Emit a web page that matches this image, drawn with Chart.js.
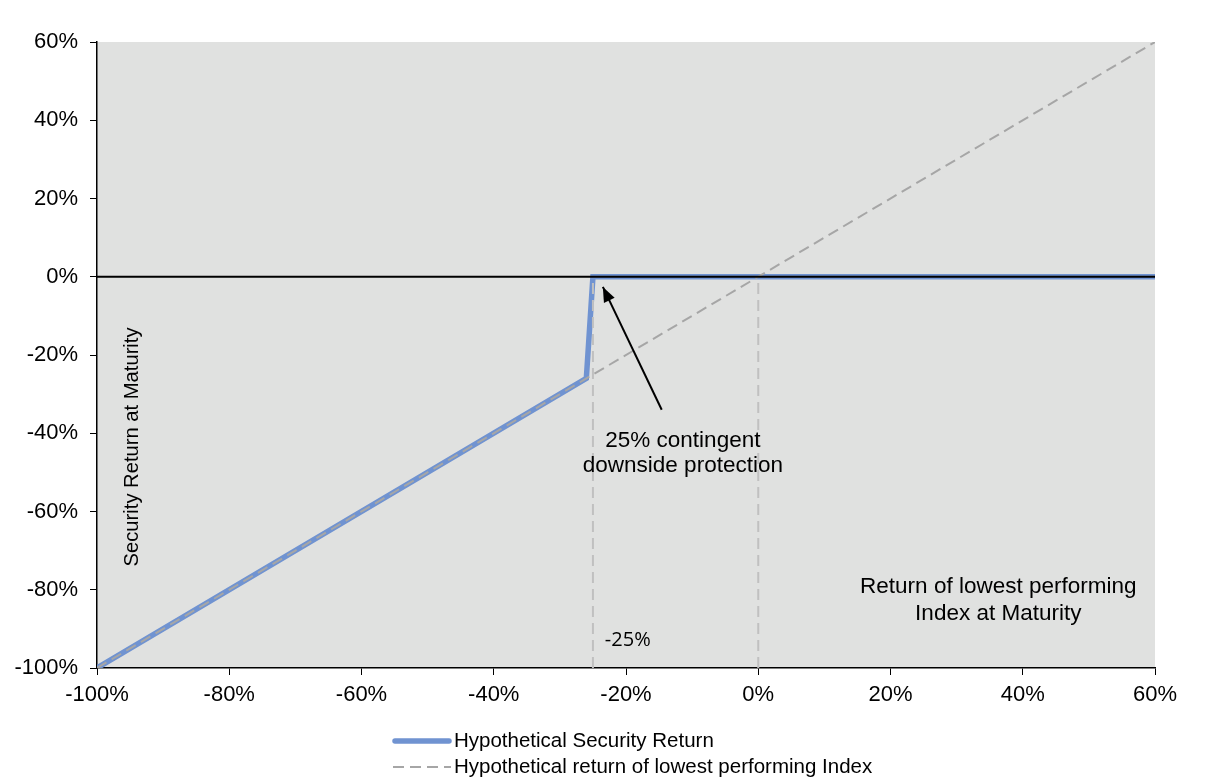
<!DOCTYPE html>
<html>
<head>
<meta charset="utf-8">
<script src="https://cdn.jsdelivr.net/npm/chart.js@4/dist/chart.umd.min.js"></script>
<style>
html,body{margin:0;padding:0;background:#fff;}
#wrap{width:1220px;height:781px;position:relative;}
</style>
</head>
<body>
<div id="wrap"><canvas id="c" width="1220" height="781"></canvas></div>
<script>
// ---- data ----
const securityX = [-100, -26, -25, 60];
const securityY = [-100, -26, 0, 0];
const indexX = [-100, 60];
const indexY = [-100, 60];
const barrierX = [-25, -25];
const barrierY = [-100, 0];
const zeroRefX = [0, 0];
const zeroRefY = [-100, 0];
const xTicks = [-100, -80, -60, -40, -20, 0, 20, 40, 60];
const yTicks = [-100, -80, -60, -40, -20, 0, 20, 40, 60];
const seriesNames = ['Hypothetical Security Return', 'Hypothetical return of lowest performing Index'];

const pts = (xs, ys) => xs.map((x, i) => ({x: x, y: ys[i]}));
const FONT = "'Liberation Sans', Arial, sans-serif";

const bgPlugin = {
  id: 'bg',
  beforeDraw(chart) {
    const a = chart.chartArea, ctx = chart.ctx;
    ctx.save();
    ctx.fillStyle = '#e0e1e0';
    ctx.fillRect(a.left, a.top, a.right - a.left, a.bottom - a.top);
    ctx.restore();
  }
};

const overlayPlugin = {
  id: 'overlay',
  afterDatasetsDraw(chart) {
    const ctx = chart.ctx, xs = chart.scales.x, ys = chart.scales.y, a = chart.chartArea;
    const X = v => xs.getPixelForValue(v), Y = v => ys.getPixelForValue(v);
    ctx.save();
    // zero line
    ctx.strokeStyle = '#000';
    ctx.lineWidth = 2;
    ctx.beginPath();
    ctx.moveTo(a.left, Y(0));
    ctx.lineTo(a.right, Y(0));
    ctx.stroke();
    // arrow
    const x1 = X(-14.6), y1 = Y(-34), x2 = X(-23.5), y2 = Y(-2.6);
    ctx.lineWidth = 2;
    ctx.beginPath();
    ctx.moveTo(x1, y1);
    ctx.lineTo(x2, y2);
    ctx.stroke();
    const ang = Math.atan2(y2 - y1, x2 - x1);
    const L = 16, W = 0.38;
    ctx.fillStyle = '#000';
    ctx.beginPath();
    ctx.moveTo(x2, y2);
    ctx.lineTo(x2 - L * Math.cos(ang - W), y2 - L * Math.sin(ang - W));
    ctx.lineTo(x2 - L * Math.cos(ang + W), y2 - L * Math.sin(ang + W));
    ctx.closePath();
    ctx.fill();
    // texts
    ctx.fillStyle = '#000';
    ctx.font = '22.5px ' + FONT;
    ctx.textAlign = 'center';
    ctx.textBaseline = 'middle';
    ctx.fillText('25% contingent', X(-11.4), Y(-41.9));
    ctx.fillText('downside protection', X(-11.4), Y(-48.3));
    ctx.fillText('Return of lowest performing', X(36.3), Y(-79.2));
    ctx.fillText('Index at Maturity', X(36.3), Y(-86.1));
    ctx.font = "20px 'Open Sans', sans-serif";
    ctx.textAlign = 'left';
    ctx.fillText('-25%', X(-23.2), Y(-93));
    ctx.font = '20.2px ' + FONT;
    ctx.textAlign = 'center';
    ctx.translate(X(-94.6), Y(-43.5));
    ctx.rotate(-Math.PI / 2);
    ctx.fillText('Security Return at Maturity', 0, 0);
    ctx.restore();
  },
  afterDraw(chart) {
    // legend
    const ctx = chart.ctx;
    const ds = chart.data.datasets;
    ctx.save();
    ctx.font = '20.5px ' + FONT;
    ctx.textBaseline = 'middle';
    ctx.textAlign = 'left';
    const rows = [741, 767];
    for (let i = 0; i < 2; i++) {
      const d = ds[i];
      ctx.strokeStyle = d.borderColor;
      ctx.lineWidth = d.borderWidth;
      ctx.setLineDash(d.borderDash || []);
      ctx.lineCap = i === 0 ? 'round' : 'butt';
      ctx.beginPath();
      ctx.moveTo(i === 0 ? 395 : 393, rows[i]);
      ctx.lineTo(i === 0 ? 449 : 451, rows[i]);
      ctx.stroke();
      ctx.setLineDash([]);
      ctx.fillStyle = '#000';
      ctx.fillText(d.label, 454, rows[i]);
    }
    ctx.restore();
  }
};

new Chart(document.getElementById('c'), {
  type: 'line',
  data: {
    datasets: [
      {label: seriesNames[0], data: pts(securityX, securityY), borderColor: '#7093d1', borderWidth: 5.5, pointRadius: 0, tension: 0, order: 3},
      {label: seriesNames[1], data: pts(indexX, indexY), borderColor: '#a6a6a6', borderWidth: 2, borderDash: [11, 6], pointRadius: 0, order: 1},
      {label: 'barrier', data: pts(barrierX, barrierY), borderColor: '#c0c0c0', borderWidth: 2, borderDash: [11, 6], pointRadius: 0, order: 2},
      {label: 'zero', data: pts(zeroRefX, zeroRefY), borderColor: '#c0c0c0', borderWidth: 2, borderDash: [11, 6], pointRadius: 0, order: 2}
    ]
  },
  options: {
    responsive: false,
    animation: false,
    devicePixelRatio: 1,
    layout: {padding: {left: 0, right: 65, top: 42, bottom: 0}},
    plugins: {legend: {display: false}, tooltip: {enabled: false}},
    scales: {
      x: {
        type: 'linear', min: -100, max: 60,
        afterBuildTicks: s => { s.ticks = xTicks.map(v => ({value: v})); },
        afterFit: s => { s.height = 113; },
        grid: {drawOnChartArea: false, drawTicks: true, tickLength: 7, tickColor: '#000'},
        border: {display: true, color: '#000', width: 1.5},
        ticks: {color: '#000', font: {family: FONT, size: 22}, padding: 7, maxRotation: 0, callback: v => v + '%'}
      },
      y: {
        type: 'linear', min: -100, max: 60,
        afterBuildTicks: s => { s.ticks = yTicks.map(v => ({value: v})); },
        afterFit: s => { s.width = 97; },
        grid: {drawOnChartArea: false, drawTicks: true, tickLength: 7, tickColor: '#000'},
        border: {display: true, color: '#000', width: 1.5},
        ticks: {color: '#000', font: {family: FONT, size: 22}, padding: 12, callback: v => v + '%'}
      }
    }
  },
  plugins: [bgPlugin, overlayPlugin]
});
</script>
</body>
</html>
